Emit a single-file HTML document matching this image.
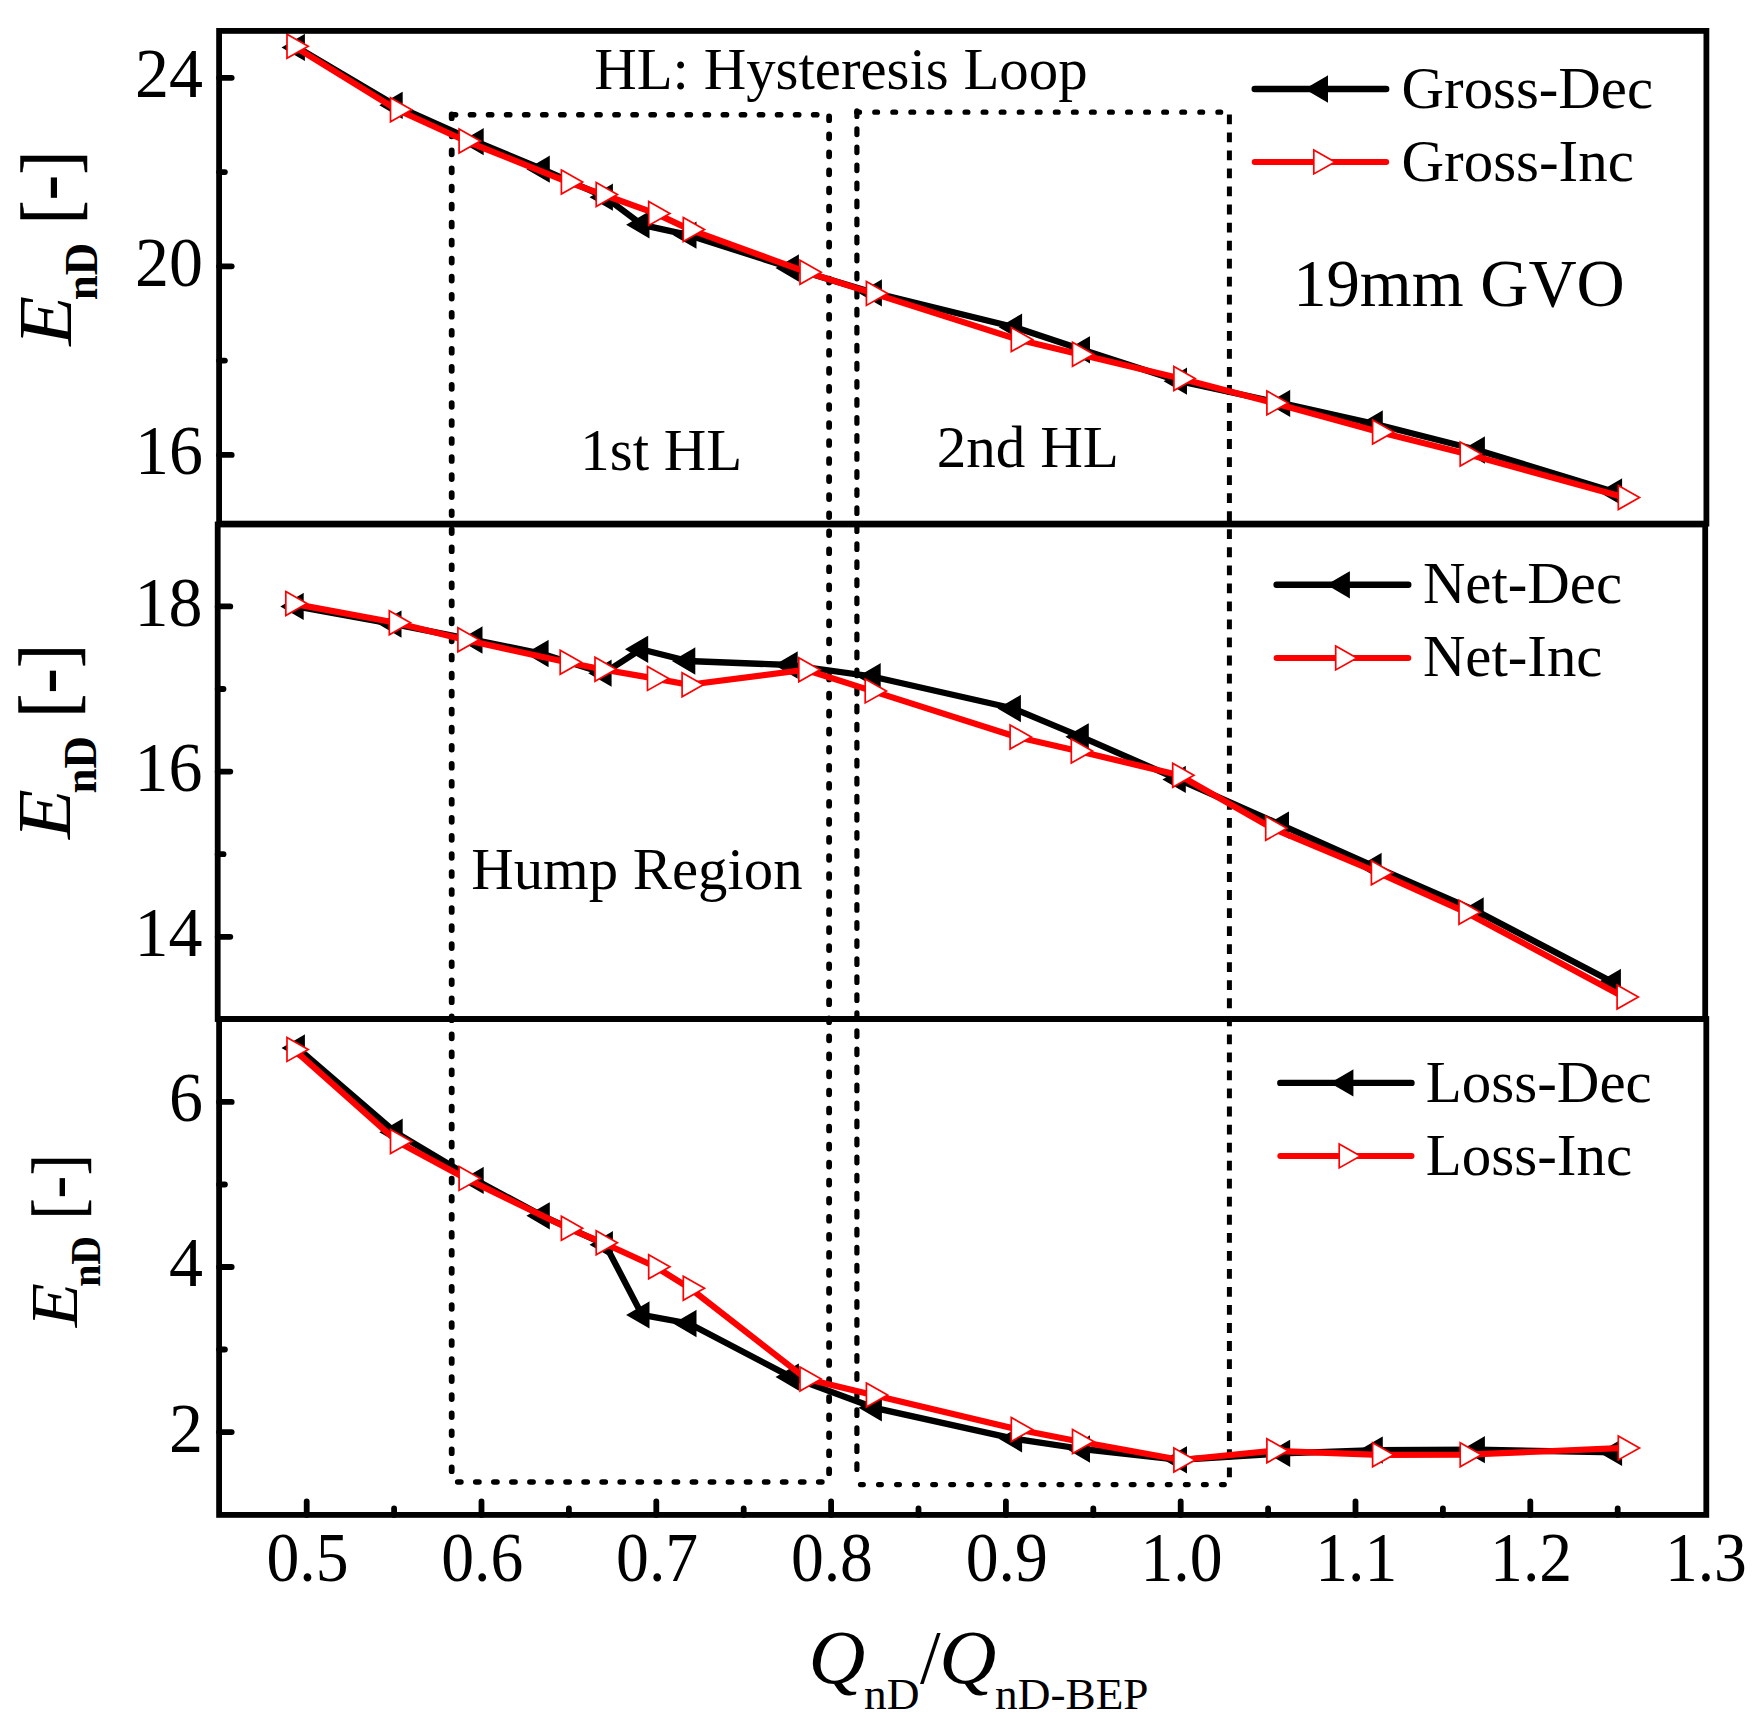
<!DOCTYPE html>
<html lang="en">
<head>
<meta charset="utf-8">
<title>Hysteresis Loop chart</title>
<style>html,body{margin:0;padding:0;background:#fff}body{width:1764px;height:1730px;overflow:hidden}svg{display:block}</style>
</head>
<body>
<svg width="1764" height="1730" viewBox="0 0 1764 1730" font-family='"Liberation Serif", "Times New Roman", Times, serif' fill="#000" style="font-kerning:none">
<rect x="0" y="0" width="1764" height="1730" fill="#fff"/>
<g id="boxes" stroke="#000" fill="none">
<line x1="451.7" y1="114.40" x2="451.7" y2="1471.20" stroke-width="5.8" stroke-linecap="round" stroke-dasharray="3.8 14.240"/>
<line x1="829.1" y1="116.40" x2="829.1" y2="1473.20" stroke-width="5.8" stroke-linecap="round" stroke-dasharray="3.8 14.240"/>
<line x1="452.40" y1="114.7" x2="816.80" y2="114.7" stroke-width="5.6" stroke-linecap="round" stroke-dasharray="3.2 14.860"/>
<line x1="457.70" y1="1482.0" x2="821.90" y2="1482.0" stroke-width="5.6" stroke-linecap="round" stroke-dasharray="3.2 14.850"/>
<line x1="856.9" y1="110.90" x2="856.9" y2="1469.50" stroke-width="5.2" stroke-linecap="round" stroke-dasharray="5.6 12.440"/>
<line x1="1229.4" y1="114.40" x2="1229.4" y2="1477.20" stroke-width="5.0" stroke-linecap="butt" stroke-dasharray="9.8 8.240"/>
<line x1="856.70" y1="112.2" x2="1220.70" y2="112.2" stroke-width="5.2" stroke-linecap="round" stroke-dasharray="2.8 15.260"/>
<line x1="860.50" y1="1484.6" x2="1224.30" y2="1484.6" stroke-width="5.2" stroke-linecap="round" stroke-dasharray="2.8 15.250"/>
</g>
<g id="panel1-data">
<polyline points="297.4,47.4 395.2,105.3 476.2,141.7 542.3,169.2 605.4,197.2 642.0,224.8 689.0,235.2 791.4,268.0 874.4,292.9 1014.6,327.2 1082.5,349.8 1179.5,381.2 1282.7,403.4 1375.3,424.0 1477.4,450.0 1614.6,491.9" fill="none" stroke="#000" stroke-width="6.3" stroke-linejoin="round" stroke-linecap="round"/>
<path d="M303.9 35.5L283.5 47.4L303.9 59.3ZM401.7 93.4L381.3 105.3L401.7 117.2ZM482.7 129.8L462.3 141.7L482.7 153.6ZM548.8 157.3L528.4 169.2L548.8 181.1ZM611.9 185.3L591.5 197.2L611.9 209.1ZM648.5 212.9L628.1 224.8L648.5 236.7ZM695.5 223.3L675.1 235.2L695.5 247.1ZM797.9 256.1L777.5 268.0L797.9 279.9ZM880.9 281.0L860.5 292.9L880.9 304.8ZM1021.1 315.3L1000.7 327.2L1021.1 339.1ZM1089.0 337.9L1068.6 349.8L1089.0 361.7ZM1186.0 369.3L1165.6 381.2L1186.0 393.1ZM1289.2 391.5L1268.8 403.4L1289.2 415.3ZM1381.8 412.1L1361.4 424.0L1381.8 435.9ZM1483.9 438.1L1463.5 450.0L1483.9 461.9ZM1621.1 480.0L1600.7 491.9L1621.1 503.8Z" fill="#000" stroke="#000" stroke-width="2.0" stroke-linejoin="miter"/>
<polyline points="293.7,46.2 397.2,109.8 465.8,141.0 568.1,182.1 602.9,194.5 655.4,213.4 690.0,229.6 806.7,272.2 873.1,293.4 1018.0,339.6 1079.2,354.3 1180.6,378.5 1273.6,402.9 1379.3,432.0 1466.9,454.0 1625.0,497.6" fill="none" stroke="#f00" stroke-width="6.2" stroke-linejoin="round" stroke-linecap="round"/>
<path d="M287.0 34.2L308.2 46.2L287.0 58.2ZM390.5 97.8L411.7 109.8L390.5 121.8ZM459.1 129.0L480.3 141.0L459.1 153.0ZM561.4 170.1L582.6 182.1L561.4 194.1ZM596.2 182.5L617.4 194.5L596.2 206.5ZM648.7 201.4L669.9 213.4L648.7 225.4ZM683.3 217.6L704.5 229.6L683.3 241.6ZM800.0 260.2L821.2 272.2L800.0 284.2ZM866.4 281.4L887.6 293.4L866.4 305.4ZM1011.3 327.6L1032.5 339.6L1011.3 351.6ZM1072.5 342.3L1093.7 354.3L1072.5 366.3ZM1173.9 366.5L1195.1 378.5L1173.9 390.5ZM1266.9 390.9L1288.1 402.9L1266.9 414.9ZM1372.6 420.0L1393.8 432.0L1372.6 444.0ZM1460.2 442.0L1481.4 454.0L1460.2 466.0ZM1618.3 485.6L1639.5 497.6L1618.3 509.6Z" fill="#fff" stroke="#f00" stroke-width="1.7" stroke-linejoin="miter"/>
</g>
<g id="panel2-data">
<polyline points="296.2,606.4 394.0,624.1 475.0,640.0 541.1,653.5 604.1,673.2 640.8,649.3 687.8,661.0 790.2,665.0 873.2,676.7 1013.4,708.5 1081.3,736.8 1178.3,779.4 1281.5,825.1 1374.1,866.4 1476.2,910.9 1613.4,982.5" fill="none" stroke="#000" stroke-width="6.3" stroke-linejoin="round" stroke-linecap="round"/>
<path d="M302.7 594.5L282.3 606.4L302.7 618.3ZM400.5 612.2L380.1 624.1L400.5 636.0ZM481.5 628.1L461.1 640.0L481.5 651.9ZM547.6 641.6L527.2 653.5L547.6 665.4ZM610.6 661.3L590.2 673.2L610.6 685.1ZM647.2 637.4L626.9 649.3L647.2 661.2ZM694.3 649.1L673.9 661.0L694.3 672.9ZM796.7 653.1L776.3 665.0L796.7 676.9ZM879.7 664.8L859.3 676.7L879.7 688.6ZM1019.9 696.6L999.5 708.5L1019.9 720.4ZM1087.8 724.9L1067.4 736.8L1087.8 748.7ZM1184.8 767.5L1164.4 779.4L1184.8 791.3ZM1288.0 813.2L1267.6 825.1L1288.0 837.0ZM1380.6 854.5L1360.2 866.4L1380.6 878.3ZM1482.7 899.0L1462.3 910.9L1482.7 922.8ZM1619.9 970.6L1599.5 982.5L1619.9 994.4Z" fill="#000" stroke="#000" stroke-width="2.0" stroke-linejoin="miter"/>
<polyline points="292.5,603.6 396.0,622.8 464.6,639.8 566.9,662.2 601.7,669.2 654.2,678.4 688.8,684.7 805.5,669.7 871.9,690.9 1016.8,737.0 1078.0,751.0 1179.4,775.2 1272.4,828.3 1378.1,872.7 1465.7,912.2 1623.8,997.0" fill="none" stroke="#f00" stroke-width="6.2" stroke-linejoin="round" stroke-linecap="round"/>
<path d="M285.8 591.6L307.0 603.6L285.8 615.6ZM389.3 610.8L410.5 622.8L389.3 634.8ZM457.9 627.8L479.1 639.8L457.9 651.8ZM560.2 650.2L581.4 662.2L560.2 674.2ZM595.0 657.2L616.2 669.2L595.0 681.2ZM647.5 666.4L668.7 678.4L647.5 690.4ZM682.1 672.7L703.3 684.7L682.1 696.7ZM798.8 657.7L820.0 669.7L798.8 681.7ZM865.2 678.9L886.4 690.9L865.2 702.9ZM1010.1 725.0L1031.3 737.0L1010.1 749.0ZM1071.3 739.0L1092.5 751.0L1071.3 763.0ZM1172.7 763.2L1193.9 775.2L1172.7 787.2ZM1265.7 816.3L1286.9 828.3L1265.7 840.3ZM1371.4 860.7L1392.6 872.7L1371.4 884.7ZM1459.0 900.2L1480.2 912.2L1459.0 924.2ZM1617.1 985.0L1638.3 997.0L1617.1 1009.0Z" fill="#fff" stroke="#f00" stroke-width="1.7" stroke-linejoin="miter"/>
</g>
<g id="panel3-data">
<polyline points="297.4,1047.9 395.2,1132.2 476.2,1180.4 542.3,1215.8 605.4,1244.7 642.0,1314.9 689.0,1323.5 791.4,1377.1 874.4,1407.8 1014.6,1438.8 1082.5,1449.0 1179.5,1459.8 1282.7,1453.3 1375.3,1450.1 1477.4,1449.7 1614.6,1452.4" fill="none" stroke="#000" stroke-width="6.3" stroke-linejoin="round" stroke-linecap="round"/>
<path d="M303.9 1036.0L283.5 1047.9L303.9 1059.8ZM401.7 1120.3L381.3 1132.2L401.7 1144.1ZM482.7 1168.5L462.3 1180.4L482.7 1192.3ZM548.8 1203.9L528.4 1215.8L548.8 1227.7ZM611.9 1232.8L591.5 1244.7L611.9 1256.6ZM648.5 1303.0L628.1 1314.9L648.5 1326.8ZM695.5 1311.6L675.1 1323.5L695.5 1335.4ZM797.9 1365.2L777.5 1377.1L797.9 1389.0ZM880.9 1395.9L860.5 1407.8L880.9 1419.7ZM1021.1 1426.9L1000.7 1438.8L1021.1 1450.7ZM1089.0 1437.1L1068.6 1449.0L1089.0 1460.9ZM1186.0 1447.9L1165.6 1459.8L1186.0 1471.7ZM1289.2 1441.4L1268.8 1453.3L1289.2 1465.2ZM1381.8 1438.2L1361.4 1450.1L1381.8 1462.0ZM1483.9 1437.8L1463.5 1449.7L1483.9 1461.6ZM1621.1 1440.5L1600.7 1452.4L1621.1 1464.3Z" fill="#000" stroke="#000" stroke-width="2.0" stroke-linejoin="miter"/>
<polyline points="293.7,1049.4 397.2,1141.5 465.8,1178.4 568.1,1228.3 602.9,1242.7 655.4,1266.8 690.0,1288.3 806.7,1379.1 873.1,1395.1 1018.0,1429.5 1079.2,1441.5 1180.6,1460.0 1273.6,1450.8 1379.3,1454.8 1466.9,1454.7 1625.0,1447.9" fill="none" stroke="#f00" stroke-width="6.2" stroke-linejoin="round" stroke-linecap="round"/>
<path d="M287.0 1037.4L308.2 1049.4L287.0 1061.4ZM390.5 1129.5L411.7 1141.5L390.5 1153.5ZM459.1 1166.4L480.3 1178.4L459.1 1190.4ZM561.4 1216.3L582.6 1228.3L561.4 1240.3ZM596.2 1230.7L617.4 1242.7L596.2 1254.7ZM648.7 1254.8L669.9 1266.8L648.7 1278.8ZM683.3 1276.3L704.5 1288.3L683.3 1300.3ZM800.0 1367.1L821.2 1379.1L800.0 1391.1ZM866.4 1383.1L887.6 1395.1L866.4 1407.1ZM1011.3 1417.5L1032.5 1429.5L1011.3 1441.5ZM1072.5 1429.5L1093.7 1441.5L1072.5 1453.5ZM1173.9 1448.0L1195.1 1460.0L1173.9 1472.0ZM1266.9 1438.8L1288.1 1450.8L1266.9 1462.8ZM1372.6 1442.8L1393.8 1454.8L1372.6 1466.8ZM1460.2 1442.7L1481.4 1454.7L1460.2 1466.7ZM1618.3 1435.9L1639.5 1447.9L1618.3 1459.9Z" fill="#fff" stroke="#f00" stroke-width="1.7" stroke-linejoin="miter"/>
</g>
<g id="frames" fill="none" stroke="#000" stroke-width="5.8" stroke-linejoin="miter">
<rect x="219.1" y="30.9" width="1487.3" height="492.7"/>
<rect x="217.7" y="524.5" width="1487.5" height="494.5"/>
<rect x="219.1" y="1019.0" width="1487.2" height="495.9"/>
</g>
<g id="ticks" stroke="#000" stroke-width="5.8" stroke-linecap="round">
<line x1="219.1" y1="77.8" x2="231.7" y2="77.8"/>
<line x1="219.1" y1="266.3" x2="231.7" y2="266.3"/>
<line x1="219.1" y1="454.9" x2="231.7" y2="454.9"/>
<line x1="219.1" y1="172.1" x2="224.9" y2="172.1"/>
<line x1="219.1" y1="360.6" x2="224.9" y2="360.6"/>
<line x1="217.7" y1="606.4" x2="230.3" y2="606.4"/>
<line x1="217.7" y1="771.6" x2="230.3" y2="771.6"/>
<line x1="217.7" y1="936.8" x2="230.3" y2="936.8"/>
<line x1="217.7" y1="689.0" x2="223.5" y2="689.0"/>
<line x1="217.7" y1="854.2" x2="223.5" y2="854.2"/>
<line x1="219.1" y1="1101.9" x2="231.7" y2="1101.9"/>
<line x1="219.1" y1="1267.0" x2="231.7" y2="1267.0"/>
<line x1="219.1" y1="1432.1" x2="231.7" y2="1432.1"/>
<line x1="219.1" y1="1184.5" x2="224.9" y2="1184.5"/>
<line x1="219.1" y1="1349.5" x2="224.9" y2="1349.5"/>
<line x1="306.7" y1="1514.9" x2="306.7" y2="1501.5"/>
<line x1="481.5" y1="1514.9" x2="481.5" y2="1501.5"/>
<line x1="656.3" y1="1514.9" x2="656.3" y2="1501.5"/>
<line x1="831.1" y1="1514.9" x2="831.1" y2="1501.5"/>
<line x1="1005.9" y1="1514.9" x2="1005.9" y2="1501.5"/>
<line x1="1180.7" y1="1514.9" x2="1180.7" y2="1501.5"/>
<line x1="1355.5" y1="1514.9" x2="1355.5" y2="1501.5"/>
<line x1="1530.3" y1="1514.9" x2="1530.3" y2="1501.5"/>
<line x1="394.1" y1="1514.9" x2="394.1" y2="1508.5"/>
<line x1="568.9" y1="1514.9" x2="568.9" y2="1508.5"/>
<line x1="743.7" y1="1514.9" x2="743.7" y2="1508.5"/>
<line x1="918.5" y1="1514.9" x2="918.5" y2="1508.5"/>
<line x1="1093.3" y1="1514.9" x2="1093.3" y2="1508.5"/>
<line x1="1268.1" y1="1514.9" x2="1268.1" y2="1508.5"/>
<line x1="1442.9" y1="1514.9" x2="1442.9" y2="1508.5"/>
<line x1="1617.7" y1="1514.9" x2="1617.7" y2="1508.5"/>
</g>
<g id="yticklabels">
<text transform="translate(135.00 97.20) scale(1.0000 1.0250)" font-size="68">24</text>
<text transform="translate(135.00 285.70) scale(1.0000 1.0250)" font-size="68">20</text>
<text transform="translate(135.00 474.30) scale(1.0000 1.0250)" font-size="68">16</text>
<text transform="translate(134.40 625.80) scale(1.0000 1.0250)" font-size="68">18</text>
<text transform="translate(134.40 791.00) scale(1.0000 1.0250)" font-size="68">16</text>
<text transform="translate(134.40 956.20) scale(1.0000 1.0250)" font-size="68">14</text>
<text transform="translate(169.00 1121.30) scale(1.0000 1.0250)" font-size="68">6</text>
<text transform="translate(169.00 1286.40) scale(1.0000 1.0250)" font-size="68">4</text>
<text transform="translate(169.00 1451.50) scale(1.0000 1.0250)" font-size="68">2</text>
</g>
<g id="xticklabels">
<text transform="translate(266.49 1581.00) scale(0.9650 1.0250)" font-size="68">0.5</text>
<text transform="translate(441.29 1581.00) scale(0.9650 1.0250)" font-size="68">0.6</text>
<text transform="translate(616.09 1581.00) scale(0.9650 1.0250)" font-size="68">0.7</text>
<text transform="translate(790.89 1581.00) scale(0.9650 1.0250)" font-size="68">0.8</text>
<text transform="translate(965.69 1581.00) scale(0.9650 1.0250)" font-size="68">0.9</text>
<text transform="translate(1140.49 1581.00) scale(0.9650 1.0250)" font-size="68">1.0</text>
<text transform="translate(1315.29 1581.00) scale(0.9650 1.0250)" font-size="68">1.1</text>
<text transform="translate(1490.09 1581.00) scale(0.9650 1.0250)" font-size="68">1.2</text>
<text transform="translate(1664.89 1581.00) scale(0.9650 1.0250)" font-size="68">1.3</text>
</g>
<g id="annotations">
<text transform="translate(594.21 88.70) scale(0.9806 1.0000)" font-size="60.0">HL: Hysteresis Loop</text>
<text transform="translate(1293.14 306.00) scale(0.9839 1.0000)" font-size="67.8">19mm GVO</text>
<text transform="translate(580.33 469.70) scale(0.9806 1.0000)" font-size="60.0">1st HL</text>
<text transform="translate(936.70 467.30) scale(0.9852 1.0000)" font-size="60.0">2nd HL</text>
<text transform="translate(471.21 888.50) scale(0.9795 1.0000)" font-size="60.0">Hump Region</text>
</g>
<g id="legends">
<line x1="1254.7" y1="89.0" x2="1386.2" y2="89.0" stroke="#000" stroke-width="6.4" stroke-linecap="round"/>
<path d="M1327.0 77.1L1306.5 89.0L1327.0 100.9Z" fill="#000" stroke="#000" stroke-width="2.0"/>
<line x1="1254.7" y1="161.9" x2="1386.2" y2="161.9" stroke="#f00" stroke-width="6" stroke-linecap="round"/>
<path d="M1313.8 149.9L1335.0 161.9L1313.8 173.9Z" fill="#fff" stroke="#f00" stroke-width="1.7"/>
<text transform="translate(1401.59 107.80) scale(1.0037 1.0000)" font-size="58.6">Gross-Dec</text>
<text transform="translate(1401.58 180.90) scale(1.0050 1.0000)" font-size="58.6">Gross-Inc</text>
<line x1="1276.6" y1="584.8" x2="1408.3" y2="584.8" stroke="#000" stroke-width="6.4" stroke-linecap="round"/>
<path d="M1348.9 572.9L1328.5 584.8L1348.9 596.7Z" fill="#000" stroke="#000" stroke-width="2.0"/>
<line x1="1276.6" y1="657.9" x2="1408.3" y2="657.9" stroke="#f00" stroke-width="6" stroke-linecap="round"/>
<path d="M1335.7 645.9L1356.9 657.9L1335.7 669.9Z" fill="#fff" stroke="#f00" stroke-width="1.7"/>
<text transform="translate(1422.91 603.40) scale(1.0032 1.0000)" font-size="58.6">Net-Dec</text>
<text transform="translate(1422.91 676.40) scale(1.0031 1.0000)" font-size="58.6">Net-Inc</text>
<line x1="1280.3" y1="1082.9" x2="1411.5" y2="1082.9" stroke="#000" stroke-width="6.4" stroke-linecap="round"/>
<path d="M1352.4 1071.0L1332.0 1082.9L1352.4 1094.8Z" fill="#000" stroke="#000" stroke-width="2.0"/>
<line x1="1280.3" y1="1155.9" x2="1411.5" y2="1155.9" stroke="#f00" stroke-width="6" stroke-linecap="round"/>
<path d="M1339.2 1143.9L1360.4 1155.9L1339.2 1167.9Z" fill="#fff" stroke="#f00" stroke-width="1.7"/>
<text transform="translate(1425.80 1101.80) scale(1.0065 1.0000)" font-size="58.6">Loss-Dec</text>
<text transform="translate(1425.80 1175.40) scale(1.0062 1.0000)" font-size="58.6">Loss-Inc</text>
</g>
<g id="ytitles">
<text transform="translate(71.2 346.7) rotate(-90) scale(1.0)"><tspan x="0.96" y="0.00" font-size="76.67" font-style="italic" textLength="49.96" lengthAdjust="spacingAndGlyphs">E</tspan><tspan x="46.49" y="26.01" font-size="46.44" font-weight="bold" textLength="57.50" lengthAdjust="spacingAndGlyphs">nD</tspan><tspan font-size="30"> </tspan><tspan x="122.50" y="4.50" font-size="80.71" textLength="23.78" lengthAdjust="spacingAndGlyphs" stroke="#000" stroke-width="0.5">[</tspan><tspan x="145.89" y="1.99" font-size="81.65" textLength="26.15" lengthAdjust="spacingAndGlyphs">-</tspan><tspan x="172.32" y="4.50" font-size="80.71" textLength="23.78" lengthAdjust="spacingAndGlyphs" stroke="#000" stroke-width="0.5">]</tspan></text>
<text transform="translate(69.9 840.0) rotate(-90) scale(1.0)"><tspan x="0.96" y="0.00" font-size="76.67" font-style="italic" textLength="49.96" lengthAdjust="spacingAndGlyphs">E</tspan><tspan x="46.49" y="26.01" font-size="46.44" font-weight="bold" textLength="57.50" lengthAdjust="spacingAndGlyphs">nD</tspan><tspan font-size="30"> </tspan><tspan x="122.50" y="4.50" font-size="80.71" textLength="23.78" lengthAdjust="spacingAndGlyphs" stroke="#000" stroke-width="0.5">[</tspan><tspan x="145.89" y="1.99" font-size="81.65" textLength="26.15" lengthAdjust="spacingAndGlyphs">-</tspan><tspan x="172.32" y="4.50" font-size="80.71" textLength="23.78" lengthAdjust="spacingAndGlyphs" stroke="#000" stroke-width="0.5">]</tspan></text>
<text transform="translate(77.1 1328.0) rotate(-90) scale(0.886)"><tspan x="0.96" y="0.00" font-size="76.67" font-style="italic" textLength="49.96" lengthAdjust="spacingAndGlyphs">E</tspan><tspan x="46.49" y="26.01" font-size="46.44" font-weight="bold" textLength="57.50" lengthAdjust="spacingAndGlyphs">nD</tspan><tspan font-size="30"> </tspan><tspan x="122.50" y="4.50" font-size="80.71" textLength="23.78" lengthAdjust="spacingAndGlyphs" stroke="#000" stroke-width="0.5">[</tspan><tspan x="145.89" y="1.99" font-size="81.65" textLength="26.15" lengthAdjust="spacingAndGlyphs">-</tspan><tspan x="172.32" y="4.50" font-size="80.71" textLength="23.78" lengthAdjust="spacingAndGlyphs" stroke="#000" stroke-width="0.5">]</tspan></text>
</g>
<g id="xtitle">
<text><tspan x="808.56" y="1683.40" font-size="76.00" font-style="italic" textLength="56.80" lengthAdjust="spacingAndGlyphs">Q</tspan><tspan x="863.96" y="1709.30" font-size="44.50" textLength="55.46" lengthAdjust="spacingAndGlyphs">nD</tspan><tspan x="919.90" y="1682.60" font-size="76.00" textLength="20.60" lengthAdjust="spacingAndGlyphs">/</tspan><tspan x="939.33" y="1683.40" font-size="76.00" font-style="italic" textLength="57.13" lengthAdjust="spacingAndGlyphs">Q</tspan><tspan x="995.06" y="1709.30" font-size="44.50" textLength="153.45" lengthAdjust="spacingAndGlyphs">nD-BEP</tspan></text>
</g>
</svg>
</body>
</html>
